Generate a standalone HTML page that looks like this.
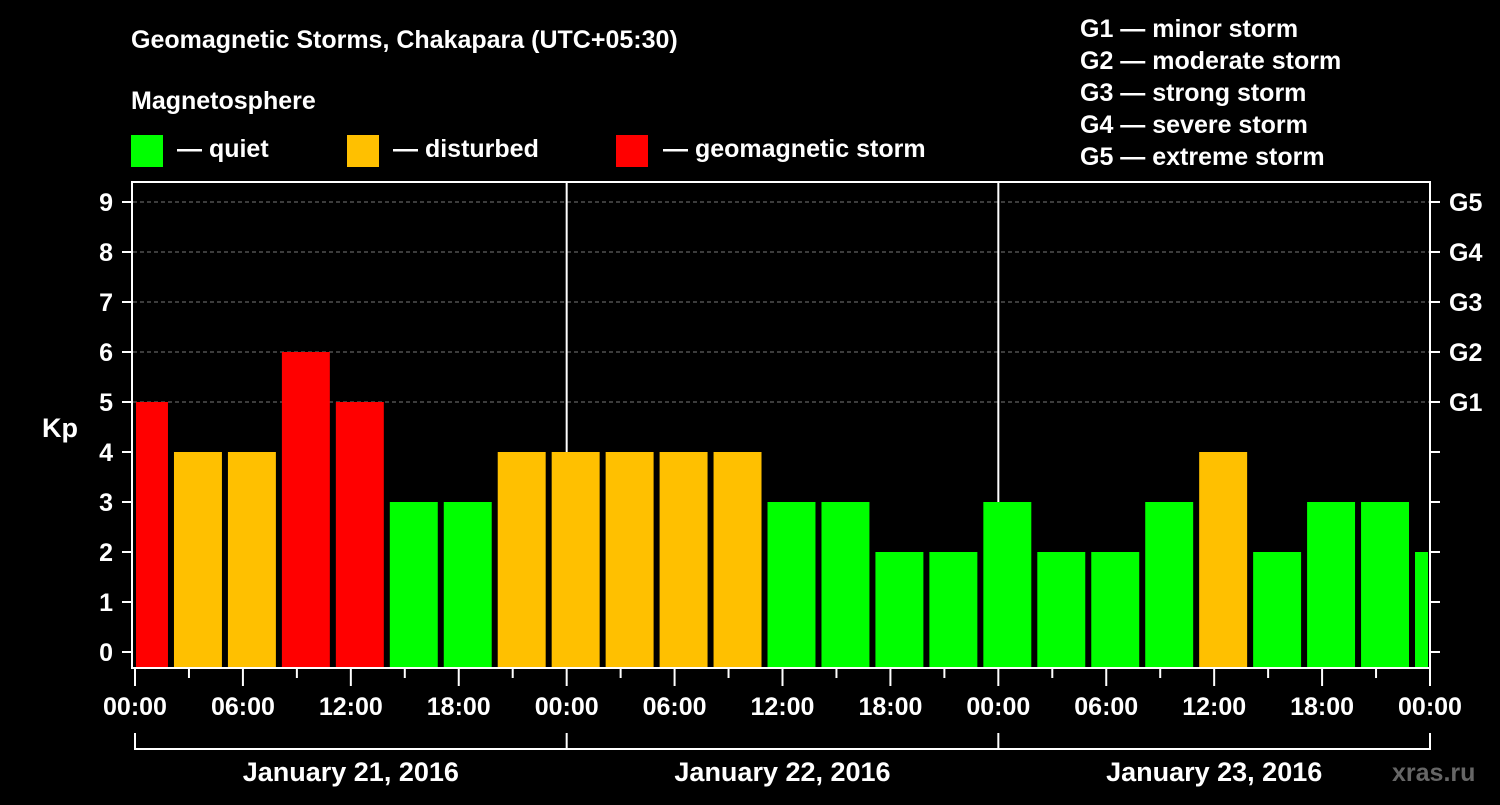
<!DOCTYPE html>
<html><head><meta charset="utf-8"><style>
html,body{margin:0;padding:0;background:#000;}
svg text{font-family:"Liberation Sans",Arial,sans-serif;font-weight:bold;fill:#fff;}
</style></head><body>
<svg id="chart" width="1500" height="800" viewBox="0 0 1500 800" xmlns="http://www.w3.org/2000/svg">
<rect width="1500" height="800" fill="#000"/>
<text x="131" y="48" font-size="25">Geomagnetic Storms, Chakapara (UTC+05:30)</text>
<text x="131" y="109" font-size="25">Magnetosphere</text>
<g><rect x="131" y="135" width="32" height="32" fill="#00ff00"/><text x="177" y="157" font-size="25">— quiet</text></g>
<g><rect x="347" y="135" width="32" height="32" fill="#ffc000"/><text x="393" y="157" font-size="25">— disturbed</text></g>
<g><rect x="616" y="135" width="32" height="32" fill="#ff0000"/><text x="663" y="157" font-size="25">— geomagnetic storm</text></g>
<g font-size="25">
<text x="1080" y="37">G1 — minor storm</text>
<text x="1080" y="69">G2 — moderate storm</text>
<text x="1080" y="101">G3 — strong storm</text>
<text x="1080" y="133">G4 — severe storm</text>
<text x="1080" y="165">G5 — extreme storm</text>
</g>
<g id="grid"></g><g id="bars"></g><g id="axes"></g>
<rect x="132" y="182" width="1298" height="486" fill="none" stroke="#fff" stroke-width="2"/>
<text x="42" y="437" font-size="27">Kp</text>
<text x="1392" y="781" font-size="25" fill="#555" style="fill:#666">xras.ru</text>
</svg>
<script>
const kpValues=[5,4,4,6,5,3,3,4,4,4,4,4,3,3,2,2,3,2,2,3,4,2,3,3,2];
const yTicks=[0,1,2,3,4,5,6,7,8,9];
const gLabels=["G1","G2","G3","G4","G5"];
const xTickLabels=["00:00","06:00","12:00","18:00","00:00","06:00","12:00","18:00","00:00","06:00","12:00","18:00","00:00"];
const dayLabels=["January 21, 2016","January 22, 2016","January 23, 2016"];
const firstSlotHour=-1, slotHours=3, totalHours=72;
const NS="http://www.w3.org/2000/svg";
const x=h=>135+h*(1430-135)/72;
const y=v=>652-v*50;
function mk(p,tag,attrs,txt){const e=document.createElementNS(NS,tag);for(const k in attrs)e.setAttribute(k,attrs[k]);if(txt!==undefined)e.textContent=txt;p.appendChild(e);return e;}
const grid=document.getElementById('grid'),bars=document.getElementById('bars'),axes=document.getElementById('axes');
yTicks.forEach(v=>{
 if(v>=5){const l=mk(grid,'line',{x1:133,x2:1430,y1:y(v),y2:y(v),stroke:'#777','stroke-dasharray':'4,3','stroke-width':1});
 
 }
 mk(axes,'line',{x1:122,x2:132,y1:y(v),y2:y(v),stroke:'#fff','stroke-width':2});
 mk(axes,'line',{x1:1430,x2:1440,y1:y(v),y2:y(v),stroke:'#fff','stroke-width':2});
 const t=mk(axes,'text',{x:113,y:y(v)+9,'font-size':25,'text-anchor':'end'},String(v));
 
 
});
gLabels.forEach((g,i)=>{const t=mk(axes,'text',{x:1449,y:y(5+i)+9,'font-size':25},g);
 
 });
kpValues.forEach((v,i)=>{
 const s=firstSlotHour+i*slotHours;
 let x0=Math.max(x(s)+3,136), x1=Math.min(x(s+slotHours)-3,1428);
 if(x1<=x0)return;
 const c=v>=5?'#ff0000':(v==4?'#ffc000':'#00ff00');
 const r=mk(bars,'rect',{x:x0,y:y(v),width:x1-x0,height:667-y(v),fill:c});
 
 
});
for(let d=1;d<3;d++){const l=mk(grid,'line',{x1:x(d*24),x2:x(d*24),y1:182,y2:668,stroke:'#fff','stroke-width':2});
 
 }
for(let h=0;h<=totalHours;h+=3){mk(axes,'line',{x1:x(h),x2:x(h),y1:668,y2:h%6==0?686:678,stroke:'#fff','stroke-width':2});}
xTickLabels.forEach((lab,i)=>{const t=mk(axes,'text',{x:x(i*6),y:715,'font-size':25,'text-anchor':'middle'},lab);
 
 });
mk(axes,'line',{x1:x(0),x2:x(72),y1:749,y2:749,stroke:'#fff','stroke-width':2});
for(let d=0;d<=3;d++)mk(axes,'line',{x1:x(d*24),x2:x(d*24),y1:733,y2:750,stroke:'#fff','stroke-width':2});
dayLabels.forEach((lab,i)=>{const t=mk(axes,'text',{x:x(i*24+12),y:781,'font-size':27,'text-anchor':'middle'},lab);
 
 });
</script>
</body></html>
